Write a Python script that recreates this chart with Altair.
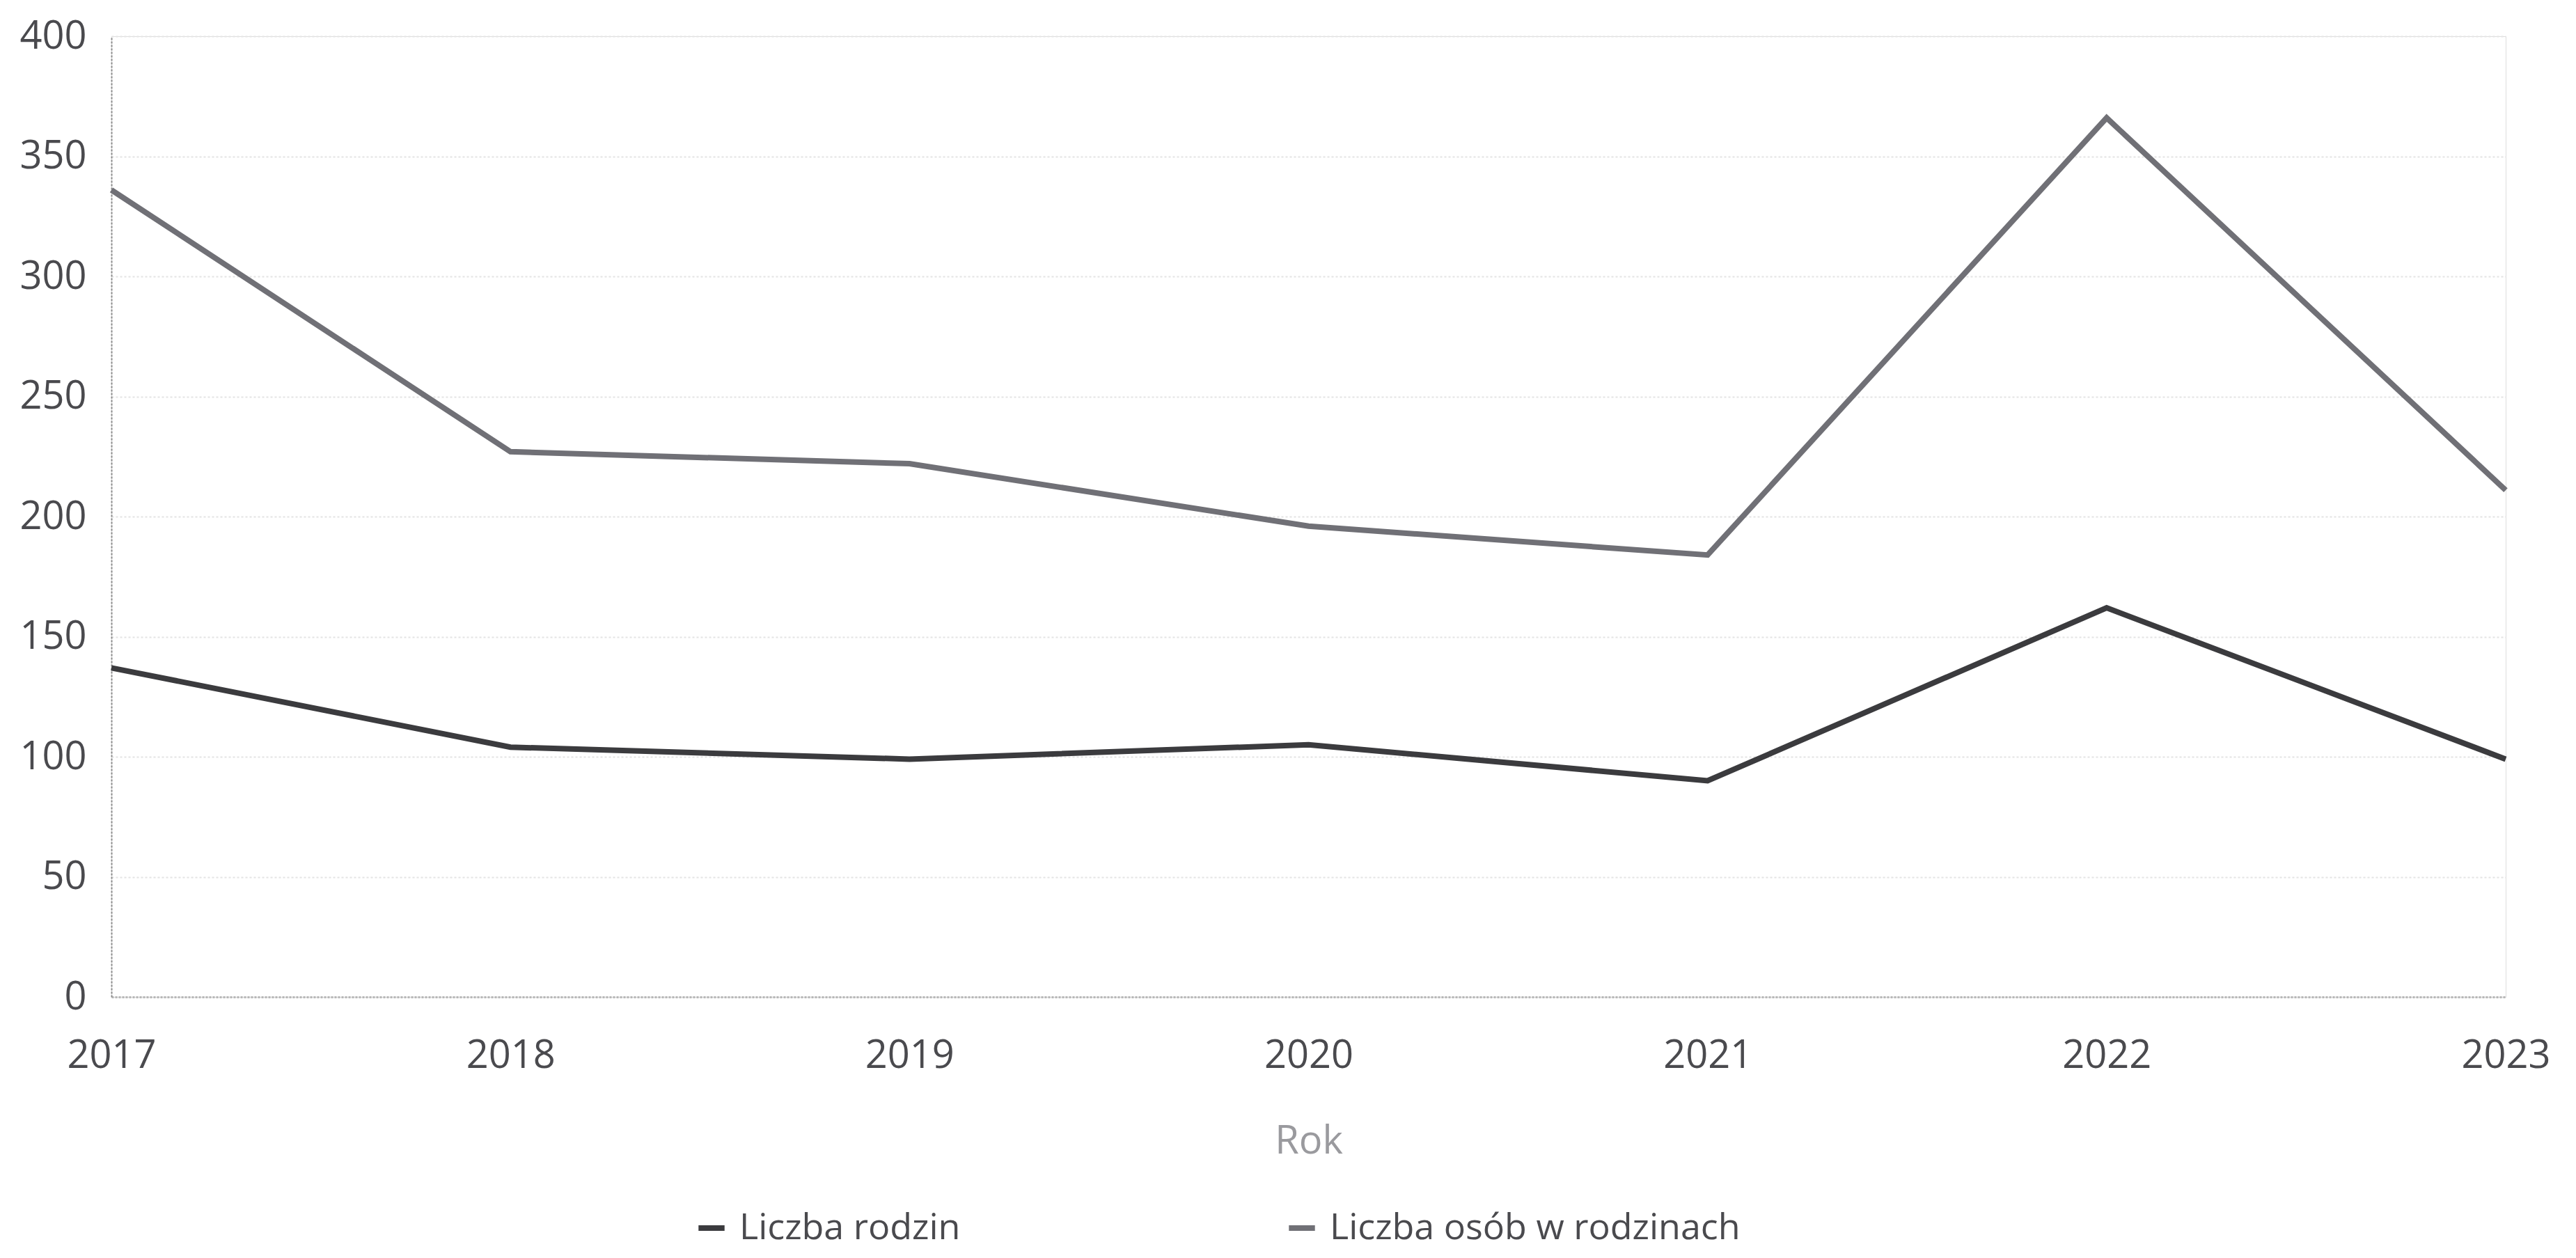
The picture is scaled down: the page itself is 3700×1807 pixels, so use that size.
import altair as alt
import pandas as pd

years = [2017, 2018, 2019, 2020, 2021, 2022, 2023]
rodziny = [137, 104, 99, 105, 90, 162, 99]
osoby = [336, 227, 222, 196, 184, 366, 211]
series_names = ["Liczba rodzin", "Liczba osób w rodzinach"]
series_colors = ["#3b3b3e", "#707076"]

rows = []
for y, r, o in zip(years, rodziny, osoby):
    rows.append({"Rok": y, "Seria": series_names[0], "Wartosc": r})
    rows.append({"Rok": y, "Seria": series_names[1], "Wartosc": o})
df = pd.DataFrame(rows)

FONT = "Open Sans"

chart = alt.Chart(df).mark_line(strokeWidth=8, strokeJoin="miter").encode(
    x=alt.X("Rok:Q",
            scale=alt.Scale(domain=[2017, 2023], nice=False, zero=False),
            axis=alt.Axis(values=years, format="d", title="Rok", grid=False,
                          ticks=False, labelPadding=57, labelFontSize=56,
                          labelColor="#4a4a4e", labelFont=FONT,
                          titleFont=FONT, titleFontSize=56, titleFontWeight="normal",
                          titleColor="#9a9a9e", titlePadding=68,
                          domainColor="#b8b8b8", domainWidth=3, domainDash=[3, 2],
                          labelFlush=False)),
    y=alt.Y("Wartosc:Q",
            scale=alt.Scale(domain=[0, 400], nice=False),
            axis=alt.Axis(values=[0, 50, 100, 150, 200, 250, 300, 350, 400], title=None,
                          ticks=False, labelPadding=36, labelFontSize=56,
                          labelColor="#4a4a4e", labelFont=FONT,
                          grid=True, gridColor="#e4e4e4", gridDash=[3, 3], gridWidth=2,
                          domainColor="#8a8a8a", domainWidth=2, domainDash=[3, 2])),
    color=alt.Color("Seria:N",
                    scale=alt.Scale(domain=series_names, range=series_colors),
                    legend=alt.Legend(title=None, orient="none", direction="horizontal",
                                      legendX=836, legendY=1686, padding=0,
                                      symbolType="stroke", symbolStrokeWidth=8,
                                      symbolSize=1400, labelFontSize=52, labelFont=FONT,
                                      labelColor="#4a4a4e", columnPadding=455,
                                      labelOffset=14, labelLimit=1200)),
).properties(
    width=3439,
    height=1380,
    padding={"left": 152, "top": 44, "right": 80, "bottom": 370},
    autosize=alt.AutoSizeParams(type="none"),
).configure_view(stroke=None).configure(background="white")

chart.save("out.html", embed_options={"renderer": "svg", "actions": False})
